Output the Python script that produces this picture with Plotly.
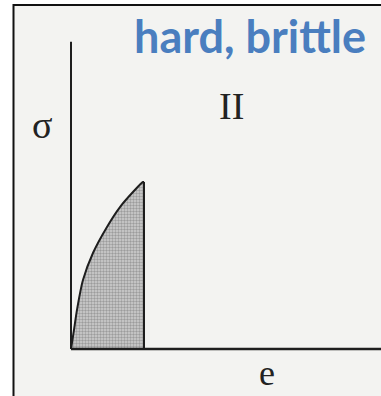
import plotly.graph_objects as go

# Stress-strain curve of a hard, brittle material (normalised units)
strain = [0.0, 0.041, 0.082, 0.164, 0.301, 0.493, 0.671, 0.849, 0.986]
stress = [0.0, 0.114, 0.234, 0.413, 0.575, 0.731, 0.850, 0.940, 1.0]
fracture_strain = 1.0

# Axis extents
x_axis_end = 4.4
y_axis_end = 1.84

W, H = 381, 396
# pixel mapping: origin at (71, 349), 73 px per strain unit, 167 px per stress unit
ox, oy, kx, ky = 71, 349, 73, 167
x_range = [-ox / kx, (W - ox) / kx]
y_range = [-(H - oy) / ky, oy / ky]

ink = "#1e1e1e"

fig = go.Figure()

# shaded area under the curve, closed by the fracture drop
fx = strain + [fracture_strain, fracture_strain, 0.0]
fy = stress + [stress[-1], 0.0, 0.0]
fig.add_trace(go.Scatter(
    x=fx, y=fy, mode="lines", fill="toself",
    fillcolor="#c4c4c4",
    fillpattern=dict(shape=".", fgcolor="#6a6a6a", bgcolor="#cfcfcf", size=3, solidity=0.5),
    line=dict(color="rgba(0,0,0,0)", width=0), hoverinfo="skip", showlegend=False,
))

# curve outline (smoothed) and fracture drop
fig.add_trace(go.Scatter(x=strain + [fracture_strain], y=stress + [stress[-1]], mode="lines",
                         line=dict(color=ink, width=2, shape="spline", smoothing=0.8),
                         showlegend=False, hoverinfo="skip"))
fig.add_trace(go.Scatter(x=[fracture_strain, fracture_strain], y=[stress[-1], 0], mode="lines",
                         line=dict(color=ink, width=2), showlegend=False, hoverinfo="skip"))

# axes
fig.add_trace(go.Scatter(x=[0, 0], y=[0, y_axis_end], mode="lines",
                         line=dict(color=ink, width=2), showlegend=False, hoverinfo="skip"))
fig.add_trace(go.Scatter(x=[0, x_axis_end], y=[0, 0], mode="lines",
                         line=dict(color=ink, width=2.5), showlegend=False, hoverinfo="skip"))

serif = "Liberation Serif, Times New Roman, serif"

def px(x, y):
    return x / W, 1 - y / H

annotations = []
for text, (x, y), size in [("σ", (42, 125), 38), ("II", (231, 106), 38), ("e", (267, 373), 36)]:
    ax, ay = px(x, y)
    annotations.append(dict(text=text, x=ax, y=ay, xref="paper", yref="paper",
                            showarrow=False, xanchor="center", yanchor="middle",
                            font=dict(family=serif, size=size, color="#222")))
ax, ay = px(250, 36)
annotations.append(dict(text="<b>hard, brittle</b>", x=ax, y=ay, xref="paper", yref="paper",
                        showarrow=False, xanchor="center", yanchor="middle",
                        font=dict(family="Lato, Open Sans, sans-serif", size=45, color="#4a7ebf")))

fig.update_layout(
    width=W, height=H,
    margin=dict(l=0, r=0, t=0, b=0),
    paper_bgcolor="white", plot_bgcolor="white",
    xaxis=dict(range=x_range, visible=False, domain=[0, 1], fixedrange=True),
    yaxis=dict(range=y_range, visible=False, domain=[0, 1], fixedrange=True),
    annotations=annotations,
    shapes=[dict(type="rect", xref="paper", yref="paper", layer="below",
                 x0=13.5 / W, x1=1.02, y0=-0.02, y1=1 - 5 / H,
                 line=dict(color="#111", width=2), fillcolor="#f3f3f1")],
    showlegend=False,
)

fig.write_html("out.html")
